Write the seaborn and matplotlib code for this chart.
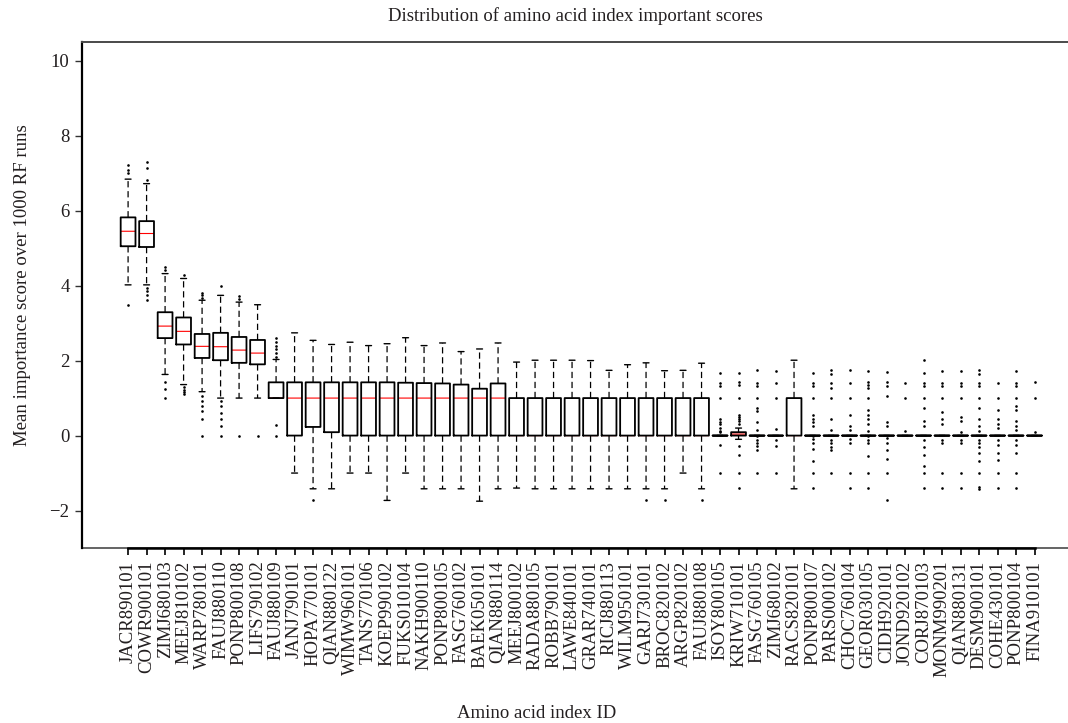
import numpy as np
import pandas as pd
import matplotlib
matplotlib.use("Agg")
import matplotlib.pyplot as plt
import matplotlib.colors as mcolors
import seaborn as sns

# ---------------- data ----------------
index_ids = [
    "JACR890101", "COWR900101", "ZIMJ680103", "MEEJ810102", "WARP780101",
    "FAUJ880110", "PONP800108", "LIFS790102", "FAUJ880109", "JANJ790101",
    "HOPA770101", "QIAN880122", "WIMW960101", "TANS770106", "KOEP990102",
    "FUKS010104", "NAKH900110", "PONP800105", "FASG760102", "BAEK050101",
    "QIAN880114", "MEEJ800102", "RADA880105", "ROBB790101", "LAWE840101",
    "GRAR740101", "RICJ880113", "WILM950101", "GARJ730101", "BROC820102",
    "ARGP820102", "FAUJ880108", "ISOY800105", "KRIW710101", "FASG760105",
    "ZIMJ680102", "RACS820101", "PONP800107", "PARS000102", "CHOC760104",
    "GEOR030105", "CIDH920101", "JOND920102", "CORJ870103", "MONM990201",
    "QIAN880131", "DESM900101", "COHE430101", "PONP800104", "FINA910101",
]

q1 = [5.05, 5.03, 2.60, 2.43, 2.07, 2.01, 1.94, 1.90, 1.00, 0.00,
      0.23, 0.09, 0.00, 0.00, 0.00, 0.00, 0.00, 0.00, 0.00, 0.00,
      0.00, 0.00, 0.00, 0.00, 0.00, 0.00, 0.00, 0.00, 0.00, 0.00,
      0.00, 0.00, 0.00, 0.00, 0.00, 0.00, 0.00, 0.00, 0.00, 0.00,
      0.00, 0.00, 0.00, 0.00, 0.00, 0.00, 0.00, 0.00, 0.00, 0.00]
median = [5.45, 5.39, 2.92, 2.78, 2.38, 2.37, 2.28, 2.20, 1.00, 1.00,
          1.00, 1.00, 1.00, 1.00, 1.00, 1.00, 1.00, 1.00, 1.00, 1.00,
          1.00, 0.00, 0.00, 0.00, 0.00, 0.00, 0.00, 0.00, 0.00, 0.00,
          0.00, 0.00, 0.00, 0.04, 0.00, 0.00, 0.00, 0.00, 0.00, 0.00,
          0.00, 0.00, 0.00, 0.00, 0.00, 0.00, 0.00, 0.00, 0.00, 0.00]
q3 = [5.82, 5.72, 3.29, 3.15, 2.71, 2.74, 2.63, 2.55, 1.42, 1.42,
      1.42, 1.42, 1.42, 1.42, 1.42, 1.41, 1.40, 1.39, 1.36, 1.25,
      1.39, 1.00, 1.00, 1.00, 1.00, 1.00, 1.00, 1.00, 1.00, 1.00,
      1.00, 1.00, 0.00, 0.09, 0.00, 0.00, 1.00, 0.00, 0.00, 0.00,
      0.00, 0.00, 0.00, 0.00, 0.00, 0.00, 0.00, 0.00, 0.00, 0.00]
whisker_low = [4.02, 4.02, 1.63, 1.36, 1.17, 1.00, 1.00, 1.00, 1.00, -1.00,
               -1.42, -1.42, -1.00, -1.00, -1.73, -1.00, -1.42, -1.42, -1.42, -1.75,
               -1.42, -1.40, -1.42, -1.42, -1.42, -1.42, -1.42, -1.42, -1.42, -1.42,
               -1.00, -1.42, 0.00, -0.10, 0.00, 0.00, -1.42, 0.00, 0.00, 0.00,
               0.00, 0.00, 0.00, 0.00, 0.00, 0.00, 0.00, 0.00, 0.00, 0.00]
whisker_high = [6.84, 6.72, 4.32, 4.19, 3.61, 3.74, 3.56, 3.49, 2.03, 2.74,
                2.54, 2.43, 2.49, 2.40, 2.45, 2.61, 2.40, 2.47, 2.24, 2.31,
                2.47, 1.96, 2.01, 2.01, 2.01, 2.00, 1.74, 1.89, 1.94, 1.73,
                1.74, 1.93, 0.00, 0.20, 0.00, 0.00, 2.01, 0.00, 0.00, 0.00,
                0.00, 0.00, 0.00, 0.00, 0.00, 0.00, 0.00, 0.00, 0.00, 0.00]

outlier_scores = [
    [7.00, 7.09, 7.21, 3.47],
    [6.83, 7.14, 7.29, 3.94, 3.85, 3.74, 3.61],
    [4.41, 4.50, 1.42, 1.23, 1.00],
    [4.28, 1.30, 1.22, 1.15, 1.10],
    [3.67, 3.75, 3.80, 1.05, 0.92, 0.78, 0.65, 0.43, 0.00],
    [3.98, 0.92, 0.78, 0.60, 0.45, 0.25, 0.00],
    [3.65, 3.72, 0.00],
    [0.00],
    [2.10, 2.20, 2.30, 2.40, 2.50, 2.60, 0.29, 0.00],
    [],
    [-1.73],
    [], [], [], [], [], [], [], [], [], [], [], [], [], [], [], [], [],
    [-1.73],
    [-1.73],
    [],
    [-1.73],
    [1.67, 1.39, 1.32, 1.00, 0.43, 0.36, 0.30, 0.20, 0.12, 0.09, -0.24, -1.00],
    [1.67, 1.42, 1.35, 1.00, 0.56, 0.50, 0.45, 0.38, 0.30, -0.28, -0.53, -1.00, -1.41],
    [1.74, 1.39, 1.32, 1.00, 0.74, 0.65, 0.36, 0.16, -0.02, -0.11, -0.20, -0.28, -0.39, -1.00],
    [1.72, 1.39, 1.00, 0.18, -0.11, -0.28, -1.00],
    [],
    [1.67, 1.39, 1.32, 1.00, 0.54, 0.45, 0.36, 0.25, -0.02, -0.10, -0.20, -0.35, -0.68, -1.00, -1.41],
    [1.74, 1.63, 1.39, 1.27, 1.00, 0.43, 0.14, -0.11, -0.20, -0.30, -0.39, -1.00],
    [1.74, 1.39, 1.00, 0.54, 0.25, 0.14, -0.09, -0.21, -1.00, -1.41],
    [1.72, 1.42, 1.35, 1.27, 1.00, 0.69, 0.55, 0.43, 0.30, 0.12, -0.02, -0.11, -0.21, -0.55, -1.00, -1.41],
    [1.70, 1.42, 1.32, 1.05, 0.36, 0.25, -0.07, -0.19, -0.39, -0.62, -1.00, -1.73],
    [1.39, 1.00, 0.12],
    [2.01, 1.67, 1.39, 1.32, 1.00, 0.74, 0.38, 0.25, -0.11, -0.30, -0.53, -0.82, -1.00, -1.41],
    [1.72, 1.39, 1.32, 1.00, 0.62, 0.43, 0.30, -0.11, -0.19, -1.00, -1.41],
    [1.72, 1.39, 1.32, 1.00, 0.50, 0.38, 0.09, -0.11, -0.19, -1.00, -1.41],
    [1.74, 1.63, 1.39, 1.32, 1.00, 0.74, 0.43, 0.25, 0.12, -0.11, -0.20, -0.30, -0.46, -0.68, -1.00, -1.37, -1.43],
    [1.39, 1.00, 0.69, 0.43, 0.30, 0.20, -0.11, -0.25, -0.46, -0.66, -1.00, -1.41],
    [1.72, 1.39, 1.32, 1.00, 0.78, 0.69, 0.38, 0.25, 0.16, -0.11, -0.25, -0.46, -1.00, -1.41],
    [1.42, 1.00, 0.09],
]

y_ticks = [-2, 0, 2, 4, 6, 8, 10]

# ---------------- build long tables from the summary values ----------------
box_rows = []
for i, name in enumerate(index_ids):
    vals = [whisker_low[i]] + [q1[i]] * 3 + [median[i]] * 3 + [q3[i]] * 3 + [whisker_high[i]]
    for v in vals:
        box_rows.append((name, v))
box_df = pd.DataFrame(box_rows, columns=["index_id", "score"])

out_rows = [(index_ids[i], v) for i, lst in enumerate(outlier_scores) for v in lst]
out_df = pd.DataFrame(out_rows, columns=["index_id", "score"])

# ---------------- style ----------------
sns.set_style("ticks")
plt.rcParams["font.family"] = ["Liberation Serif", "DejaVu Serif"]
plt.rcParams["axes.unicode_minus"] = True
text_color = "#231f20"
median_color = "#ff0000"

fig = plt.figure(figsize=(10.68, 7.23), dpi=100)
ax = fig.add_axes([0.0768, 0.242, 0.9232, 0.700])

sns.boxplot(
    data=box_df, x="index_id", y="score", order=index_ids,
    whis=(0, 100), fill=False, color="black", width=0.8,
    showfliers=False, linewidth=1.2, capwidths=0.32,
    boxprops={"color": "black", "linewidth": 1.3},
    medianprops={"color": median_color, "linewidth": 0.8},
    whiskerprops={"color": "black", "linewidth": 0.9, "linestyle": (0, (5, 3))},
    capprops={"color": "black", "linewidth": 1.0},
    ax=ax,
)
# median lines sit beneath the black outlines (medians lying on an edge stay hidden)
for ln in ax.lines:
    ln.set_snap(False)
    if mcolors.to_hex(ln.get_color()) == median_color:
        ln.set_zorder(1.8)
    else:
        ln.set_zorder(3.0)

sns.stripplot(
    data=out_df, x="index_id", y="score", order=index_ids,
    jitter=False, color="black", size=1.9, linewidth=0, ax=ax, zorder=4,
)

ax.set_xlim(-2.49, 50.81)
ax.set_ylim(-3, 10.5)
ax.set_yticks(y_ticks)
ax.set_yticklabels([f"{t}" if t >= 0 else f"\u2212{abs(t)}" for t in y_ticks])

ax.tick_params(axis="x", labelrotation=90, labelsize=13.5, length=5,
               width=1.2, direction="out", pad=4, colors="black",
               labelcolor=text_color)
ax.tick_params(axis="y", labelsize=13.5, length=5, width=1.0,
               direction="out", pad=4, colors="#333333", labelcolor=text_color)

# spines
ax.spines["right"].set_visible(False)
ax.spines["top"].set_color("#4a4a4a")
ax.spines["top"].set_linewidth(1.4)
ax.spines["left"].set_color("black")
ax.spines["left"].set_linewidth(1.6)
ax.spines["bottom"].set_color("black")
ax.spines["bottom"].set_linewidth(1.8)
ax.spines["bottom"].set_bounds(0, len(index_ids) - 1)
ax.axhline(-3, color="#4a4a4a", linewidth=1.2, clip_on=False, zorder=0.5)

ax.set_title("Distribution of amino acid index important scores",
             fontsize=13.5, color=text_color, pad=15)
ax.set_xlabel("Amino acid index ID", fontsize=13.5, color=text_color)
ax.set_ylabel("Mean importance score over 1000 RF runs", fontsize=13.5,
              color=text_color)
ax.xaxis.set_label_coords(0.461, -0.31)
ax.yaxis.set_label_coords(-0.0517, 0.52)

fig.savefig("out.png", dpi=100)
